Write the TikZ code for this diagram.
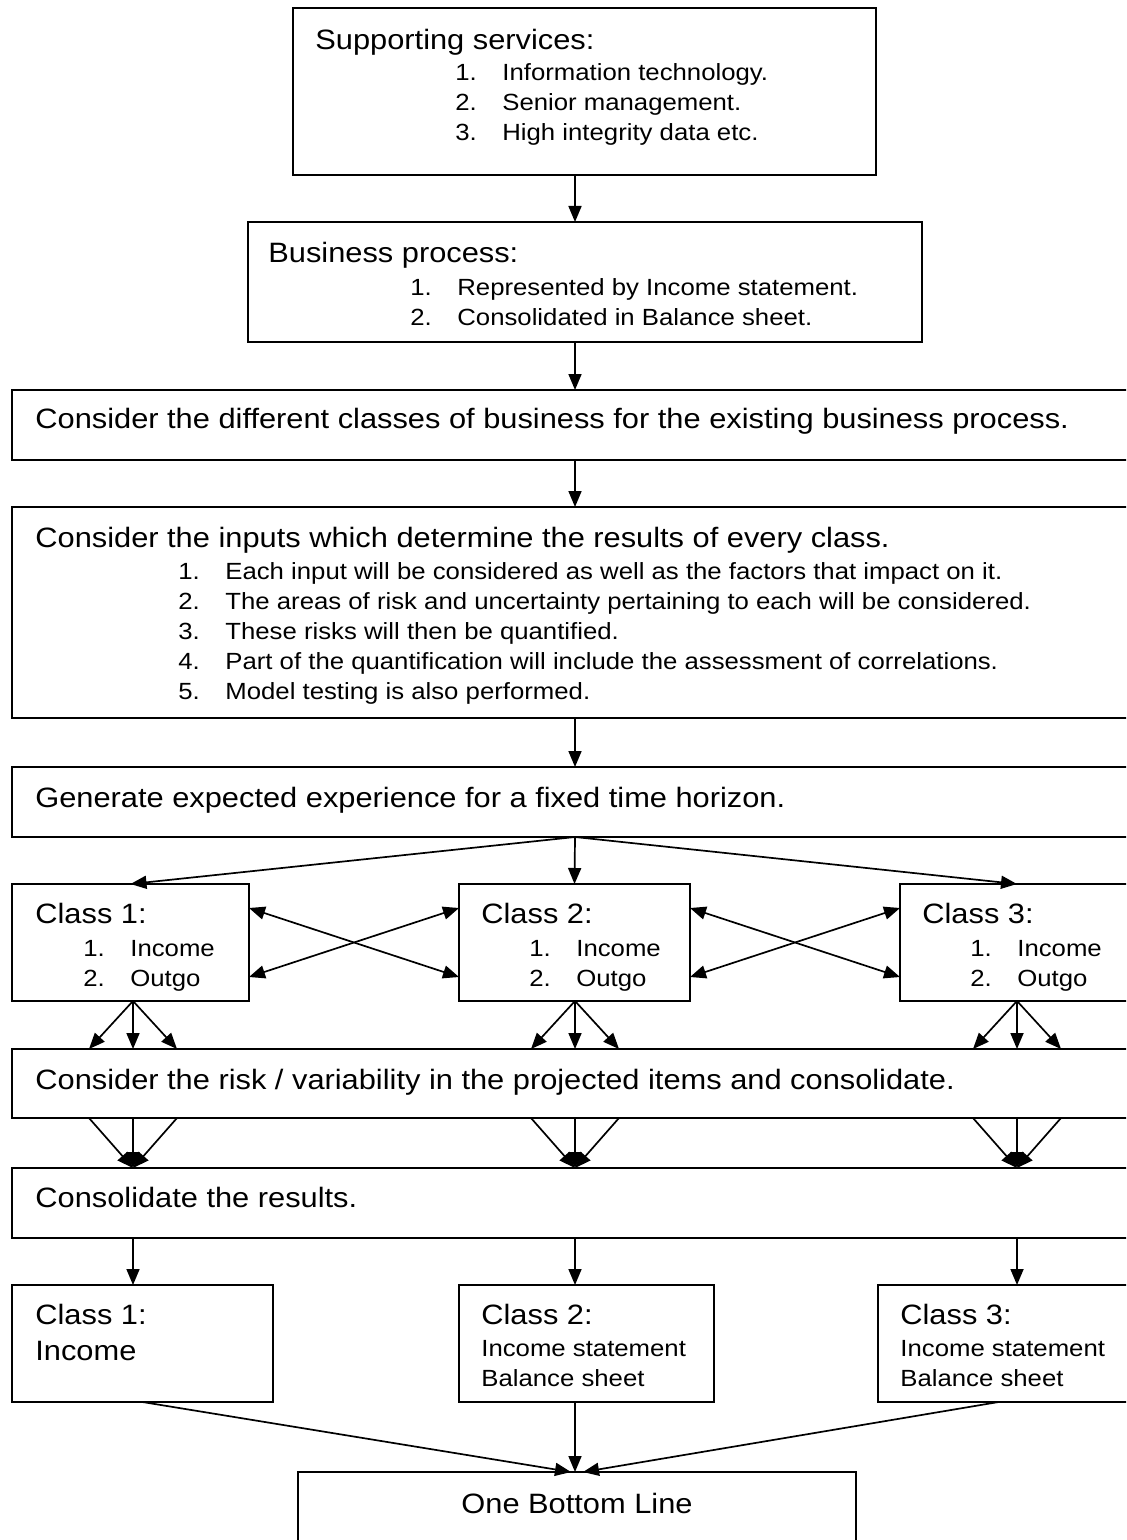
\documentclass[tikz,border=0pt]{standalone}
\usepackage{fontspec}
\setmainfont{Liberation Sans}[FakeStretch=1.1]
\usetikzlibrary{arrows.meta, fit, calc}

\newcommand\numitem[2]{\makebox[23.5pt][l]{#1}#2}

\begin{document}
\begin{tikzpicture}[x=0.5pt, y=-0.5pt,
  box/.style={draw, line width=0.85pt, inner sep=0pt, outer sep=0pt},
  hd/.style={anchor=base west, inner sep=0pt, font=\fontsize{14pt}{16pt}\selectfont},
  itm/.style={anchor=base west, inner sep=0pt, font=\fontsize{11.7pt}{13pt}\selectfont},
  a/.style={-{Triangle[length=8pt, width=6.5pt]}, line width=0.85pt},
  aa/.style={{Triangle[length=8pt, width=6.5pt]}-{Triangle[length=8pt, width=6.5pt]}, line width=0.85pt}]
\useasboundingbox (0,0) rectangle (1126,1540);
\clip (0,0) rectangle (1126,1540);
% columns of the arrows
\coordinate (cA) at (133,0);
\coordinate (cB) at (575,0);
\coordinate (cC) at (1017,0);

% boxes
\node[box, fit={(293,8) (876,175)}] (supp) {};
\node[box, fit={(248,222) (922,342)}] (bproc) {};
\node[box, fit={(12,390) (1145,460)}] (classes) {};
\node[box, fit={(12,507) (1145,718)}] (inputs) {};
\node[box, fit={(12,767) (1145,837)}] (gen) {};
\node[box, fit={(12,884) (249,1001)}] (cls1) {};
\node[box, fit={(459,884) (690,1001)}] (cls2) {};
\node[box, fit={(900,884) (1135,1001)}] (cls3) {};
\node[box, fit={(12,1049) (1145,1118)}] (risk) {};
\node[box, fit={(12,1168) (1145,1238)}] (consol) {};
\node[box, fit={(12,1285) (273,1402)}] (bcls1) {};
\node[box, fit={(459,1285) (714,1402)}] (bcls2) {};
\node[box, fit={(878,1285) (1135,1402)}] (bcls3) {};
\node[box, fit={(298,1472) (856,1560)}] (bline) {};

% texts
\node[hd] (suppT) at (315,50) {Supporting services:};
\foreach \t [count=\i] in {{Information technology.}, {Senior management.}, {High integrity data etc.}}
  \node[itm] (supp\i) at (455,{81+30*(\i-1)}) {\numitem{\i.}{\t}};
\node[hd] (bprocT) at (268,263) {Business process:};
\foreach \t [count=\i] in {{Represented by Income statement.}, {Consolidated in Balance sheet.}}
  \node[itm] (bproc\i) at (410,{296+30*(\i-1)}) {\numitem{\i.}{\t}};
\node[hd] (classesT) at (35,428) {Consider the different classes of business for the existing business process.};
\node[hd] (inputsT) at (35,547) {Consider the inputs which determine the results of every class.};
\foreach \t [count=\i] in {{Each input will be considered as well as the factors that impact on it.},
    {The areas of risk and uncertainty pertaining to each will be considered.},
    {These risks will then be quantified.},
    {Part of the quantification will include the assessment of correlations.},
    {Model testing is also performed.}}
  \node[itm] (inputs\i) at (178,{579+30*(\i-1)}) {\numitem{\i.}{\t}};
\node[hd] (genT) at (35,807) {Generate expected experience for a fixed time horizon.};
\foreach \x/\k in {35/1, 481/2, 922/3}{
  \node[hd] (cls\k T) at (\x,923) {Class \k:};
  \node[itm] (cls\k a) at (\x+48,956) {\numitem{1.}{Income}};
  \node[itm] (cls\k b) at (\x+48,986) {\numitem{2.}{Outgo}};
}
\node[hd] (riskT) at (35,1089) {Consider the risk / variability in the projected items and consolidate.};
\node[hd] (consolT) at (35,1207) {Consolidate the results.};
\node[hd] (bcls1T) at (35,1324) {Class 1:};
\node[hd] (bcls1a) at (35,1360) {Income};
\foreach \x/\k in {481/2, 900/3}{
  \node[hd] (bcls\k T) at (\x,1324) {Class \k:};
  \node[itm] (bcls\k a) at (\x,1356) {Income statement};
  \node[itm] (bcls\k b) at (\x,1386) {Balance sheet};
}
\node[hd, anchor=base] (blineT) at (577,1513) {One Bottom Line};

% arrows
\draw[a] (cB |- supp.south) -- (cB |- bproc.north);
\draw[a] (cB |- bproc.south) -- (cB |- classes.north);
\draw[a] (cB |- classes.south) -- (cB |- inputs.north);
\draw[a] (cB |- inputs.south) -- (cB |- gen.north);
\draw[a] (cB |- gen.south) -- (cls1.north);
\draw[a] (cB |- gen.south) -- (cls2.north);
\draw[a] (cB |- gen.south) -- (cC |- cls3.north);
\draw[aa] ($(cls1.north east)+(0,24)$) -- ($(cls2.south west)+(0,-24)$);
\draw[aa] ($(cls1.south east)+(0,-24)$) -- ($(cls2.north west)+(0,24)$);
\draw[aa] ($(cls2.north east)+(0,24)$) -- ($(cls3.south west)+(0,-24)$);
\draw[aa] ($(cls2.south east)+(0,-24)$) -- ($(cls3.north west)+(0,24)$);
\foreach \c/\n in {cA/cls1, cB/cls2, cC/cls3}{
  \foreach \dx in {-44,0,44}{
    \draw[a] (\c |- \n.south) -- ($(\c |- risk.north)+(\dx,0)$);
    \draw[a] ($(\c |- risk.south)+(\dx,0)$) -- (\c |- consol.north);
  }
}
\draw[a] (cA |- consol.south) -- (cA |- bcls1.north);
\draw[a] (cB |- consol.south) -- (cB |- bcls2.north);
\draw[a] (cC |- consol.south) -- (cC |- bcls3.north);
\draw[a] (bcls1.south) -- ($(bline.north)+(-6,0)$);
\draw[a] (cB |- bcls2.south) -- (cB |- bline.north);
\draw[a] ([xshift=-4pt]bcls3.south) -- ($(bline.north)+(6,0)$);
\end{tikzpicture}
\end{document}
